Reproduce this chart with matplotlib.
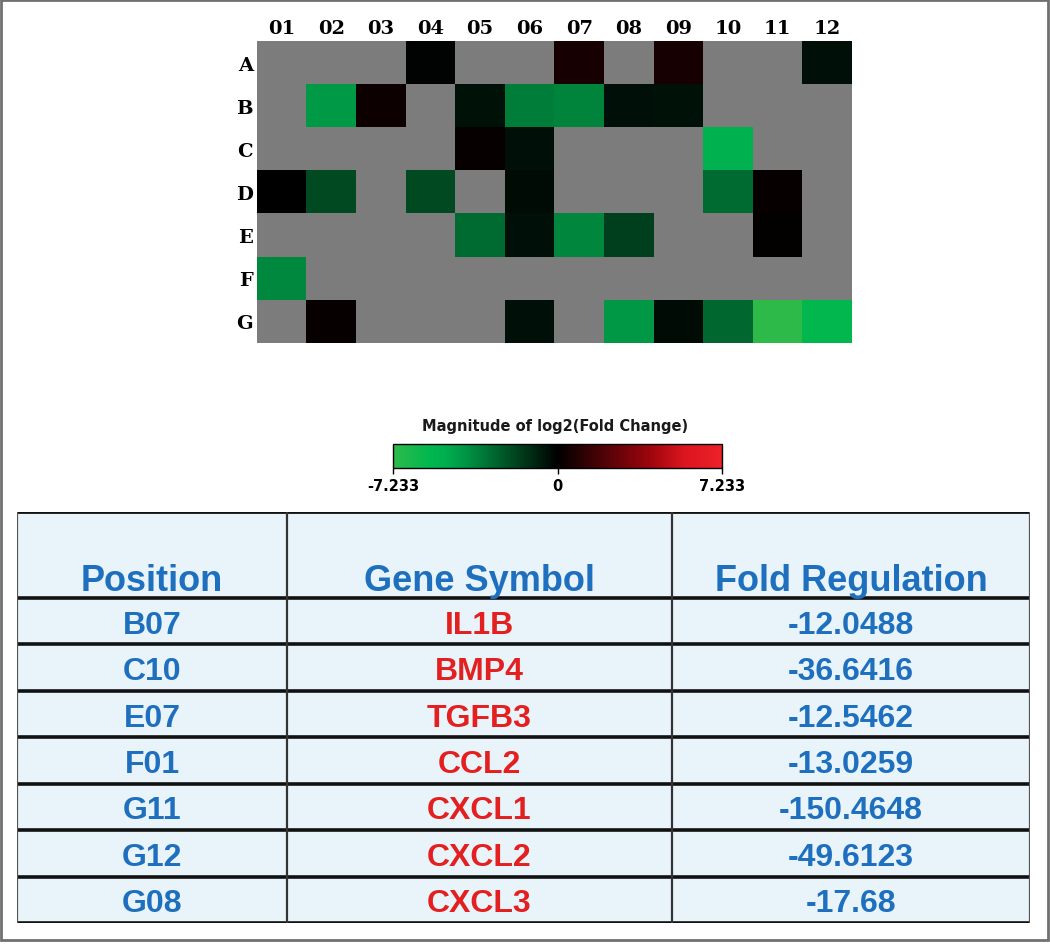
import numpy as np
import matplotlib.pyplot as plt
from matplotlib.colors import LinearSegmentedColormap, Normalize
from matplotlib.cm import ScalarMappable
from matplotlib.patches import Rectangle

nan = np.nan
row_labels = ["A", "B", "C", "D", "E", "F", "G"]
col_labels = ["01", "02", "03", "04", "05", "06", "07", "08", "09", "10", "11", "12"]

# log2(fold change) per well, nan = grey (not shown)
row_A = [nan, nan, nan, -0.1, nan, nan, 0.6, nan, 0.6, nan, nan, -0.4]
row_B = [nan, -4.2, 0.3, nan, -0.5, -3.4, -3.59, -0.4, -0.5, nan, nan, nan]
row_C = [nan, nan, nan, nan, 0.2, -0.4, nan, nan, nan, -5.196, nan, nan]
row_D = [0.0, -2.0, nan, -2.0, nan, -0.3, nan, nan, nan, -2.9, 0.2, nan]
row_E = [nan, nan, nan, nan, -2.9, -0.4, -3.65, -1.7, nan, nan, 0.1, nan]
row_F = [-3.70, nan, nan, nan, nan, nan, nan, nan, nan, nan, nan, nan]
row_G = [nan, 0.2, nan, nan, nan, -0.4, nan, -4.144, -0.3, -2.8, -7.233, -5.633]

lim = 7.233
cbar_ticks = [-7.233, 0, 7.233]
cbar_ticklabels = ["-7.233", "0", "7.233"]

positions = ["B07", "C10", "E07", "F01", "G11", "G12", "G08"]
genes = ["IL1B", "BMP4", "TGFB3", "CCL2", "CXCL1", "CXCL2", "CXCL3"]
fold_reg = ["-12.0488", "-36.6416", "-12.5462", "-13.0259", "-150.4648", "-49.6123", "-17.68"]
headers = ["Position", "Gene Symbol", "Fold Regulation"]

data = np.array([row_A, row_B, row_C, row_D, row_E, row_F, row_G])

W, H = 1050, 945
fig = plt.figure(figsize=(W / 100, H / 100), dpi=100)

# green - black - red map
def p(v):
    return (v + lim) / (2 * lim)

nodes = [
    (p(-7.233), (0.18, 0.73, 0.29)),
    (p(-5.6), (0.0, 0.72, 0.31)),
    (p(-5.0), (0.0, 0.69, 0.31)),
    (p(-4.1), (0.0, 0.59, 0.27)),
    (p(0), (0.0, 0.0, 0.0)),
    (p(4.1), (0.62, 0.02, 0.05)),
    (p(5.6), (0.86, 0.08, 0.12)),
    (p(7.233), (0.93, 0.13, 0.16)),
]
cmap = LinearSegmentedColormap.from_list("gbr", nodes)
cmap.set_bad("#7b7c7b")
norm = Normalize(-lim, lim)

# heatmap
ax = fig.add_axes([257 / W, 1 - 344 / H, 595 / W, 302 / H])
ax.imshow(np.ma.masked_invalid(data), cmap=cmap, norm=norm, aspect="auto",
          interpolation="nearest")
ax.set_xticks(range(len(col_labels)))
ax.set_xticklabels(col_labels)
ax.set_yticks(range(len(row_labels)))
ax.set_yticklabels(row_labels)
ax.xaxis.tick_top()
ax.tick_params(length=0, pad=3)
for lab in ax.get_xticklabels() + ax.get_yticklabels():
    lab.set_fontfamily("DejaVu Serif")
    lab.set_fontweight("bold")
    lab.set_fontsize(14)
for s in ax.spines.values():
    s.set_visible(False)

# colorbar
cax = fig.add_axes([393 / W, 1 - 469 / H, 329 / W, 24 / H])
cb = fig.colorbar(ScalarMappable(norm=norm, cmap=cmap), cax=cax, orientation="horizontal")
cb.set_ticks(cbar_ticks)
cb.set_ticklabels(cbar_ticklabels)
cb.outline.set_linewidth(1)
cax.tick_params(length=4, width=1, pad=3, labelsize=10.5)
for lab in cax.get_xticklabels():
    lab.set_fontweight("bold")
fig.text(555 / W, 1 - 427 / H, "Magnitude of log2(Fold Change)", ha="center", va="center",
         fontsize=10.5, fontweight="bold", color="#1a1a1a")

# table
tw, th = 1013, 411
tax = fig.add_axes([17 / W, 1 - 924 / H, tw / W, th / H])
tax.set_xlim(0, tw)
tax.set_ylim(th, 0)
tax.axis("off")
tax.add_patch(Rectangle((0, 0), tw, th, fc="#e8f4fa", ec="none"))

col_edges = [0, 270, 655, tw]
head_h = 86
row_h = (th - head_h) / len(positions)
row_edges = [0, head_h] + [head_h + (i + 1) * row_h for i in range(len(positions))]

for y in row_edges:
    tax.plot([0, tw], [y, y], color="#111111", lw=2.6 if y > 0 else 2.0, solid_capstyle="butt")
for x in col_edges:
    tax.plot([x, x], [0, th], color="#333333" if 0 < x < tw else "#555555", lw=1.6)

blue = "#1f6fbf"
red = "#e3201f"
centers = [(col_edges[i] + col_edges[i + 1]) / 2 for i in range(3)]
for c, h in zip(centers, headers):
    tax.text(c, 78, h, ha="center", va="baseline", fontsize=26, fontweight="bold",
             color=blue, family="Liberation Sans")
for i in range(len(positions)):
    yc = head_h + (i + 0.5) * row_h
    tax.text(centers[0], yc, positions[i], ha="center", va="center_baseline", fontsize=23,
             fontweight="bold", color=blue, family="Liberation Sans")
    tax.text(centers[1], yc, genes[i], ha="center", va="center_baseline", fontsize=23,
             fontweight="bold", color=red, family="Liberation Sans")
    tax.text(centers[2], yc, fold_reg[i], ha="center", va="center_baseline", fontsize=23,
             fontweight="bold", color=blue, family="Liberation Sans")

# outer frame
fig.add_artist(Rectangle((1 / W, 1 - 941 / H), 1047 / W, 940 / H, transform=fig.transFigure,
                         fill=False, ec="#707070", lw=2))

fig.savefig("out.png", dpi=100)
